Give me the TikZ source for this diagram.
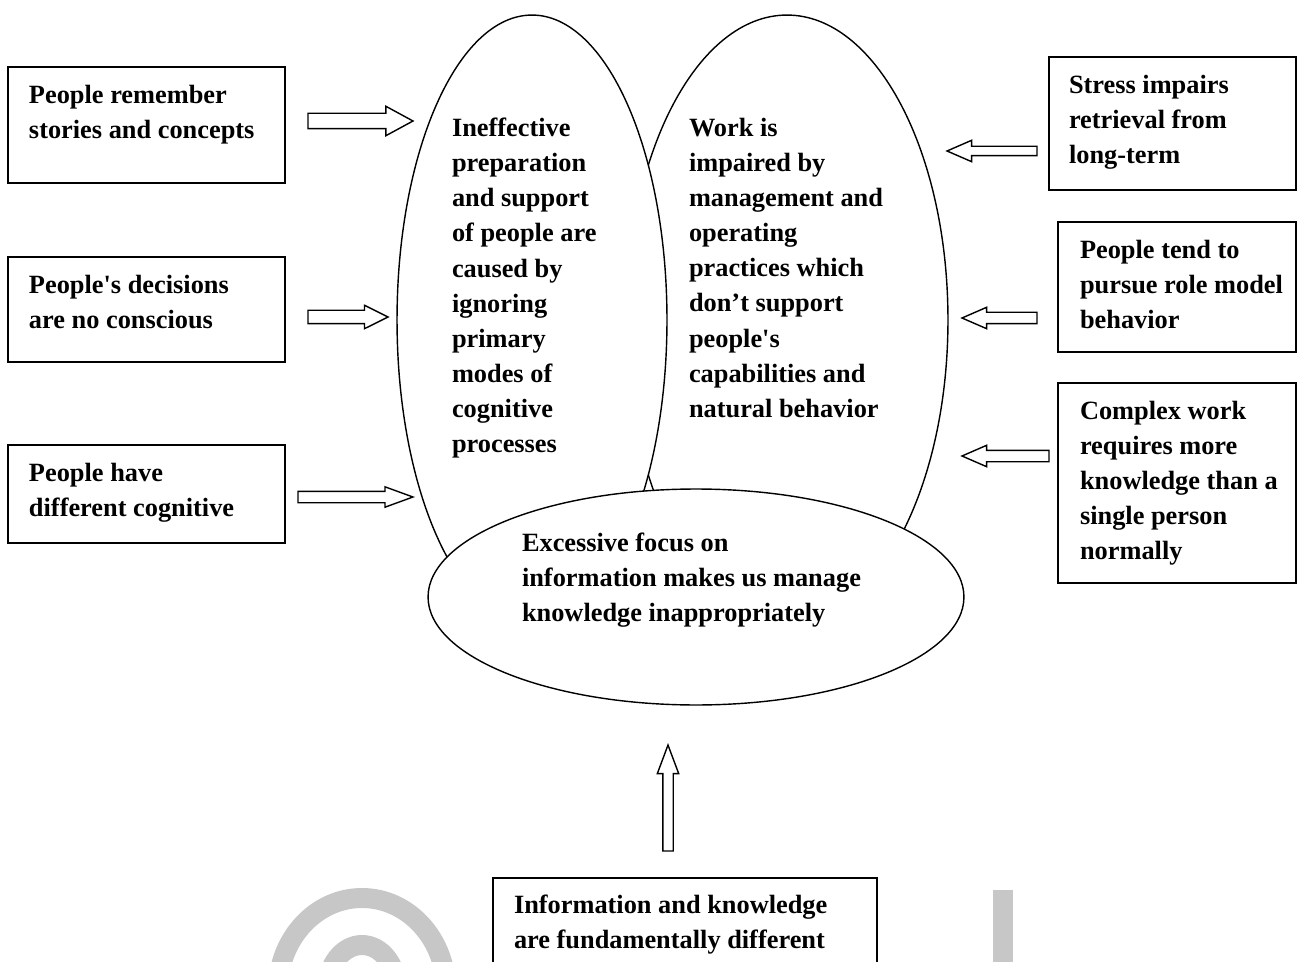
\documentclass[tikz,border=0pt]{standalone}
\usepackage{fontspec}
\setmainfont{Liberation Serif}
\usepackage{tikz}
\usetikzlibrary{shapes.geometric,shapes.arrows,positioning}

\begin{document}
\begin{tikzpicture}[x=0.02cm, y=-0.02cm, semithick,
  every node/.style={inner sep=0pt, outer sep=0pt}]
  \tikzstyle{factbox}=[draw=black, line width=0.8pt, rectangle]
  \tikzstyle{oval}=[draw=black, line width=0.8pt, fill=white, ellipse]
  \tikzstyle{note}=[anchor=north west, align=left, font=\bfseries\fontsize{15pt}{20pt}\selectfont]
  \tikzstyle{blockarrow}=[draw=black, line width=0.8pt, fill=white, single arrow, single arrow head indent=0pt, inner xsep=0pt, anchor=tail]
  \tikzstyle{wmark}=[draw=black!22, line width=0.4cm]

  \useasboundingbox (0,0) rectangle (1297,962);
  \clip (0,0) rectangle (1297,962);

  \draw[wmark] (278,990) arc[start angle=180, end angle=360, x radius=84, y radius=92];
  \draw[wmark] (327,990) arc[start angle=180, end angle=360, x radius=35, y radius=45];
  \draw[wmark] (1003,890) -- (1003,970);

  \node[oval, minimum width=6.44cm, minimum height=12.2cm] (worko) at (787,320) {};
  \node[oval, minimum width=5.4cm, minimum height=12.2cm] (prepo) at (532,320) {};
  \node[oval, minimum width=10.72cm, minimum height=4.32cm] (infoo) at (696,597) {};

  \node[note] (preptxt) at (452,118) {Ineffective\\preparation\\and support\\of people are\\caused by\\ignoring\\primary\\modes of\\cognitive\\processes};
  \node[note] (worktxt) at (689,118) {Work is\\impaired by\\management and\\operating\\practices which\\don’t support\\people\textquotesingle s\\capabilities and\\natural behavior};
  \node[note] (infotxt) at (522,533) {Excessive focus on\\information makes us manage\\knowledge inappropriately};

  \node[factbox, minimum width=5.54cm, minimum height=2.32cm] (storybox) at (146.5,125) {};
  \node[factbox, minimum width=5.54cm, minimum height=2.1cm] (decidebox) at (146.5,309.5) {};
  \node[factbox, minimum width=5.54cm, minimum height=1.96cm] (cogbox) at (146.5,494) {};
  \node[factbox, minimum width=4.94cm, minimum height=2.66cm] (stressbox) at (1172.5,123.5) {};
  \node[factbox, minimum width=4.76cm, minimum height=2.6cm] (rolebox) at (1177,287) {};
  \node[factbox, minimum width=4.76cm, minimum height=4cm] (complexbox) at (1177,483) {};
  \node[factbox, minimum width=7.68cm, minimum height=2.44cm] (diffbox) at (685,939) {};

  \node[note] at (29,85) {People remember\\stories and concepts};
  \node[note] at (29,275) {People\textquotesingle s decisions\\are no conscious};
  \node[note] at (29,463) {People have\\different cognitive};
  \node[note] at (1069,75) {Stress impairs\\retrieval from\\long-term};
  \node[note] at (1080,240) {People tend to\\pursue role model\\behavior};
  \node[note] at (1080,401) {Complex work\\requires more\\knowledge than a\\single person\\normally};
  \node[note] at (514,895) {Information and knowledge\\are fundamentally different};

  \node[blockarrow, minimum height=2.1cm, inner ysep=0.14cm, single arrow head extend=0.14cm, single arrow tip angle=57] (a1) at (308,121) {};
  \node[blockarrow, minimum height=1.6cm, inner ysep=0.12cm, single arrow head extend=0.1cm, single arrow tip angle=53] (a2) at (308,317) {};
  \node[blockarrow, minimum height=2.3cm, inner ysep=0.1cm, single arrow head extend=0.09cm, single arrow tip angle=40] (a3) at (298,497) {};
  \node[blockarrow, shape border rotate=180, minimum height=1.8cm, inner ysep=0.08cm, single arrow head extend=0.12cm, single arrow tip angle=47] (a4) at (1037,151) {};
  \node[blockarrow, shape border rotate=180, minimum height=1.5cm, inner ysep=0.1cm, single arrow head extend=0.1cm, single arrow tip angle=47] (a5) at (1037,318) {};
  \node[blockarrow, shape border rotate=180, minimum height=1.74cm, inner ysep=0.1cm, single arrow head extend=0.1cm, single arrow tip angle=47] (a6) at (1049,456) {};
  \node[blockarrow, shape border rotate=90, minimum height=2.12cm, inner xsep=0.09cm, inner ysep=0pt, single arrow head extend=0.11cm, single arrow tip angle=41] (a7) at (668,851) {};
\end{tikzpicture}
\end{document}
